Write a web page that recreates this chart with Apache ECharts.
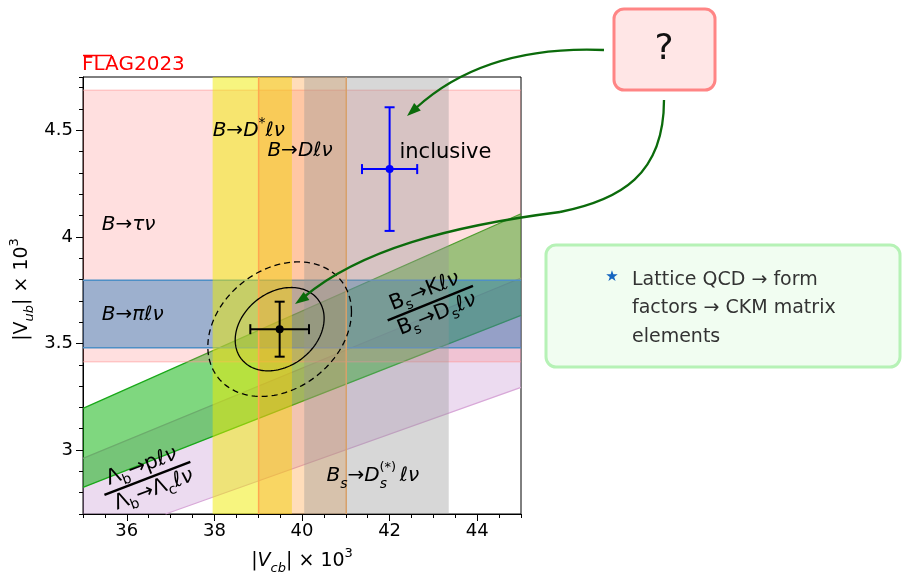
<!DOCTYPE html>
<html><head><meta charset="utf-8">
<script src="https://cdn.jsdelivr.net/npm/echarts@6/dist/echarts.min.js"></script>
<style>html,body{margin:0;padding:0;background:#fff}#c{width:902px;height:574px}</style>
</head><body><div id="c"></div>
<script>
// ---------------- data ----------------
const xRange = [35, 45];
const yRange = [2.7, 4.75];
const xMajorTicks = [36, 38, 40, 42, 44];
const yMajorTicks = [3, 3.5, 4, 4.5];

const hBandNames = ['B→τν', 'B→πℓν'];
const hBandLow  = [3.414, 3.48];
const hBandHigh = [4.688, 3.797];

const vBandNames = ['B→D*ℓν', 'B→Dℓν', 'Bs→Ds(*)ℓν'];
const vBandLow  = [37.96, 39.01, 40.05];
const vBandHigh = [39.77, 41.01, 43.35];

const ratioNames = ['Λb→pℓν / Λb→Λcℓν', 'Bs→Kℓν / Bs→Dsℓν'];
const ratioLow  = [0.0732, 0.0807];
const ratioHigh = [0.0846, 0.0913];

const pointNames = ['inclusive', 'average'];
const pointX    = [42.0, 39.49];
const pointXErr = [0.63, 0.67];
const pointY    = [4.318, 3.567];
const pointYErr = [0.29, 0.129];
const avgCorrelation = 0.26;
const contourScale = [1.515, 2.447];

const labelTexts = ['{m|B→τν}', '{m|B→πℓν}', '{m|B→D}{sup|*}{m|ℓν}', '{m|B→Dℓν}', '{r|inclusive}', '{m|B}{sub|s}{m|→D}{subw|s}{m|ℓν}'];
const labelX = [35.43, 35.43, 37.96, 39.21, 42.225, 40.56];
const labelY = [4.06, 3.64, 4.50, 4.41, 4.40, 2.883];

const fracNum = ['{u|Λ}{sb|b}{u|→p}{i|ℓν}', '{u|B}{sb|s}{u|→K}{i|ℓν}'];
const fracDen = ['{u|Λ}{sb|b}{u|→Λ}{sb|c}{i|ℓν}', '{u|B}{sb|s}{u|→D}{sb|s}{i|ℓν}'];
const fracX = [36.47, 42.93];
const fracY = [2.867, 3.689];
const fracAngle = [21, 22];

const noteLines = ['Lattice QCD → form', 'factors → CKM matrix', 'elements'];
// -------------------------------------

const FONT = 'DejaVu Sans';
const chart = echarts.init(document.getElementById('c'), null, {renderer: 'canvas'});

function clipPoly(poly, xmin, xmax, ymin, ymax) {
  const edges = [
    [p => p[0] >= xmin, (a, b) => { const t = (xmin - a[0]) / (b[0] - a[0]); return [xmin, a[1] + t * (b[1] - a[1])]; }],
    [p => p[0] <= xmax, (a, b) => { const t = (xmax - a[0]) / (b[0] - a[0]); return [xmax, a[1] + t * (b[1] - a[1])]; }],
    [p => p[1] >= ymin, (a, b) => { const t = (ymin - a[1]) / (b[1] - a[1]); return [a[0] + t * (b[0] - a[0]), ymin]; }],
    [p => p[1] <= ymax, (a, b) => { const t = (ymax - a[1]) / (b[1] - a[1]); return [a[0] + t * (b[0] - a[0]), ymax]; }]
  ];
  let out = poly;
  for (const [inside, inter] of edges) {
    const inp = out; out = [];
    for (let i = 0; i < inp.length; i++) {
      const cur = inp[i], prev = inp[(i + inp.length - 1) % inp.length];
      if (inside(cur)) { if (!inside(prev)) out.push(inter(prev, cur)); out.push(cur); }
      else if (inside(prev)) out.push(inter(prev, cur));
    }
  }
  return out;
}

function ratioSeries(i, fill, edge) {
  return {
    type: 'custom', name: ratioNames[i], xAxisIndex: 0, yAxisIndex: 0,
    data: [[ratioLow[i], ratioHigh[i]]],
    renderItem: (params, api) => {
      const s1 = api.value(0), s2 = api.value(1);
      const [x0, x1] = xRange, [y0, y1] = yRange;
      const poly = clipPoly([[x0, s1 * x0], [x1, s1 * x1], [x1, s2 * x1], [x0, s2 * x0]], x0, x1, y0, y1);
      const children = [{type: 'polygon', shape: {points: poly.map(p => api.coord(p))}, style: {fill: fill}}];
      [s1, s2].forEach(s => {
        const xa = Math.max(x0, y0 / s), xb = Math.min(x1, y1 / s);
        if (xa < xb) {
          const pa = api.coord([xa, s * xa]), pb = api.coord([xb, s * xb]);
          children.push({type: 'line', shape: {x1: pa[0], y1: pa[1], x2: pb[0], y2: pb[1]}, style: {stroke: edge, lineWidth: 1.3}});
        }
      });
      return {type: 'group', children};
    }
  };
}

function rectSeries(name, lo, hi, dir, fill, edge, edgeW) {
  return {
    type: 'custom', name, xAxisIndex: 0, yAxisIndex: 0,
    data: [[lo, hi]],
    renderItem: (params, api) => {
      const a = api.value(0), b = api.value(1);
      let p1, p2;
      if (dir === 'h') { p1 = api.coord([xRange[0], b]); p2 = api.coord([xRange[1], a]); }
      else { p1 = api.coord([a, yRange[1]]); p2 = api.coord([b, yRange[0]]); }
      const children = [{type: 'rect', shape: {x: p1[0], y: p1[1], width: p2[0] - p1[0], height: p2[1] - p1[1]}, style: {fill}}];
      if (edge) {
        if (dir === 'h') {
          children.push({type: 'line', shape: {x1: p1[0], y1: p1[1], x2: p2[0], y2: p1[1]}, style: {stroke: edge, lineWidth: edgeW}});
          children.push({type: 'line', shape: {x1: p1[0], y1: p2[1], x2: p2[0], y2: p2[1]}, style: {stroke: edge, lineWidth: edgeW}});
        } else {
          children.push({type: 'line', shape: {x1: p1[0], y1: p1[1], x2: p1[0], y2: p2[1]}, style: {stroke: edge, lineWidth: edgeW}});
          children.push({type: 'line', shape: {x1: p2[0], y1: p1[1], x2: p2[0], y2: p2[1]}, style: {stroke: edge, lineWidth: edgeW}});
        }
      }
      return {type: 'group', children};
    }
  };
}

const richM = {
  m: {fontFamily: FONT, fontStyle: 'italic', fontSize: 20, lineHeight: 30, fill: '#000'},
  r: {fontFamily: FONT, fontSize: 21, lineHeight: 30, fill: '#000'},
  sub: {fontFamily: FONT, fontStyle: 'italic', fontSize: 14, lineHeight: 16, verticalAlign: 'bottom', fill: '#000'},
  subw: {fontFamily: FONT, fontStyle: 'italic', fontSize: 14, lineHeight: 16, verticalAlign: 'bottom', width: 20, fill: '#000'},
  sup: {fontFamily: FONT, fontSize: 14, lineHeight: 16, verticalAlign: 'top', fill: '#000'}
};
const richF = {
  u: {fontFamily: FONT, fontSize: 21, lineHeight: 28, fill: '#000'},
  i: {fontFamily: FONT, fontStyle: 'italic', fontSize: 21, lineHeight: 28, fill: '#000'},
  sb: {fontFamily: FONT, fontSize: 14, lineHeight: 15, verticalAlign: 'bottom', fill: '#000'}
};

const series = [
  ratioSeries(0, 'rgba(205,160,215,0.38)', '#d8a8d8'),
  ratioSeries(1, 'rgba(0,175,0,0.5)', '#19a819'),
  rectSeries(hBandNames[0], hBandLow[0], hBandHigh[0], 'h', 'rgba(255,120,120,0.24)', 'rgba(255,150,150,0.45)', 1.5),
  rectSeries(hBandNames[1], hBandLow[1], hBandHigh[1], 'h', 'rgba(31,115,185,0.44)', '#4d8fc6', 1.5),
  rectSeries(vBandNames[0], vBandLow[0], vBandHigh[0], 'v', 'rgba(240,235,0,0.5)', null, 0),
  rectSeries(vBandNames[1], vBandLow[1], vBandHigh[1], 'v', 'rgba(255,150,40,0.32)', '#ffa850', 1.5),
  rectSeries(vBandNames[2], vBandLow[2], vBandHigh[2], 'v', 'rgba(150,150,150,0.38)', null, 0),
  {
    type: 'custom', name: 'contours', xAxisIndex: 0, yAxisIndex: 0,
    data: contourScale.map(k => [pointX[1], pointY[1], pointXErr[1], pointYErr[1], avgCorrelation, k]),
    renderItem: (params, api) => {
      const cx = api.value(0), cy = api.value(1), sx = api.value(2), sy = api.value(3), rho = api.value(4), k = api.value(5);
      const pts = [];
      for (let j = 0; j <= 160; j++) {
        const t = j / 160 * Math.PI * 2;
        pts.push(api.coord([cx + k * sx * Math.cos(t), cy + k * sy * (rho * Math.cos(t) + Math.sqrt(1 - rho * rho) * Math.sin(t))]));
      }
      return {type: 'polyline', shape: {points: pts}, style: {stroke: '#000', lineWidth: 1.3, fill: 'none', lineDash: params.dataIndex === 1 ? [6, 4] : null}};
    }
  },
  {
    type: 'custom', name: 'points', xAxisIndex: 0, yAxisIndex: 0,
    data: pointX.map((x, i) => [x, pointY[i], pointXErr[i], pointYErr[i]]),
    renderItem: (params, api) => {
      const col = params.dataIndex === 0 ? '#0000ff' : '#000000';
      const x = api.value(0), y = api.value(1), ex = api.value(2), ey = api.value(3);
      const c = api.coord([x, y]), l = api.coord([x - ex, y]), r = api.coord([x + ex, y]), t = api.coord([x, y + ey]), b = api.coord([x, y - ey]);
      const cap = 5, st = {stroke: col, lineWidth: 2};
      return {type: 'group', children: [
        {type: 'line', shape: {x1: l[0], y1: l[1], x2: r[0], y2: r[1]}, style: st},
        {type: 'line', shape: {x1: t[0], y1: t[1], x2: b[0], y2: b[1]}, style: st},
        {type: 'line', shape: {x1: l[0], y1: l[1] - cap, x2: l[0], y2: l[1] + cap}, style: st},
        {type: 'line', shape: {x1: r[0], y1: r[1] - cap, x2: r[0], y2: r[1] + cap}, style: st},
        {type: 'line', shape: {x1: t[0] - cap, y1: t[1], x2: t[0] + cap, y2: t[1]}, style: st},
        {type: 'line', shape: {x1: b[0] - cap, y1: b[1], x2: b[0] + cap, y2: b[1]}, style: st},
        {type: 'circle', shape: {cx: c[0], cy: c[1], r: 4}, style: {fill: col}}
      ]};
    }
  },
  {
    type: 'custom', name: 'labels', xAxisIndex: 0, yAxisIndex: 0,
    data: labelX.map((x, i) => [x, labelY[i]]),
    renderItem: (params, api) => {
      const p = api.coord([api.value(0), api.value(1)]);
      const children = [{type: 'text', x: 0, y: 1, style: {text: labelTexts[params.dataIndex], rich: richM, align: 'left', verticalAlign: 'middle', fontFamily: FONT, fontSize: 20}}];
      if (params.dataIndex === 5) children.push({type: 'text', x: 53, y: -7, style: {text: '(*)', fontFamily: FONT, fontSize: 13, fill: '#000', align: 'left', verticalAlign: 'middle'}});
      return {type: 'group', x: p[0], y: p[1], children};
    }
  },
  {
    type: 'custom', name: 'ratio labels', xAxisIndex: 0, yAxisIndex: 0,
    data: fracX.map((x, i) => [x, fracY[i]]),
    renderItem: (params, api) => {
      const i = params.dataIndex;
      const p = api.coord([api.value(0), api.value(1)]);
      return {type: 'group', x: p[0], y: p[1], rotation: fracAngle[i] * Math.PI / 180, children: [
        {type: 'text', x: -1, y: -13, style: {text: fracNum[i], rich: richF, align: 'center', verticalAlign: 'middle', fontFamily: FONT, fontSize: 21}},
        {type: 'line', shape: {x1: -46, y1: 0, x2: 46, y2: 0}, style: {stroke: '#000', lineWidth: 2.5}},
        {type: 'text', x: 2, y: 13, style: {text: fracDen[i], rich: richF, align: 'center', verticalAlign: 'middle', fontFamily: FONT, fontSize: 21}}
      ]};
    }
  }
];

function arrowHead(tip, from, color) {
  let dx = tip[0] - from[0], dy = tip[1] - from[1];
  const len = Math.hypot(dx, dy); dx /= len; dy /= len;
  const L = 14, W = 5;
  const bx = tip[0] - dx * L, by = tip[1] - dy * L;
  return {type: 'polygon', z: 101, shape: {points: [tip, [bx - dy * W, by + dx * W], [bx + dy * W, by - dx * W]]}, style: {fill: color}};
}

const arrowColor = '#0b6b0b';
const graphic = [
  {type: 'text', z: 100, style: {x: 82, y: 65, text: 'FLAG2023', fontFamily: FONT, fontSize: 20, fill: '#ff0000', verticalAlign: 'middle'}},
  {type: 'line', z: 100, shape: {x1: 83, y1: 55.5, x2: 112, y2: 55.5}, style: {stroke: '#ff0000', lineWidth: 1.5}},
  {type: 'rect', z: 100, shape: {x: 614, y: 9, width: 101, height: 81, r: 10}, style: {fill: '#ffe6e6', stroke: '#ff8585', lineWidth: 3}},
  {type: 'text', z: 101, style: {x: 664, y: 50, text: '?', fontFamily: FONT, fontSize: 36, fill: '#111', align: 'center', verticalAlign: 'middle'}},
  {type: 'rect', z: 100, shape: {x: 546, y: 245, width: 354, height: 122, r: 10}, style: {fill: '#f1fdf1', stroke: '#b6f2b6', lineWidth: 3}},
  {type: 'text', z: 101, style: {x: 612, y: 277, text: '★', fontFamily: FONT, fontSize: 15, fill: '#1565c0', align: 'center', verticalAlign: 'middle'}},
  ...noteLines.map((t, i) => ({type: 'text', z: 101, style: {x: 632, y: 280 + i * 28.5, text: t, fontFamily: FONT, fontSize: 19, fill: '#333', verticalAlign: 'middle'}})),
  {type: 'bezierCurve', z: 100, shape: {x1: 604, y1: 50, cpx1: 485, cpy1: 45, x2: 416, y2: 108}, style: {stroke: arrowColor, lineWidth: 2.3, fill: 'none'}},
  arrowHead([407, 116], [425, 100], arrowColor),
  {type: 'bezierCurve', z: 100, shape: {x1: 664, y1: 100, cpx1: 664, cpy1: 175, cpx2: 620, cpy2: 200, x2: 560, y2: 212}, style: {stroke: arrowColor, lineWidth: 2.3, fill: 'none'}},
  {type: 'bezierCurve', z: 100, shape: {x1: 560, y1: 212, cpx1: 450, cpy1: 226, cpx2: 360, cpy2: 250, x2: 304, y2: 297}, style: {stroke: arrowColor, lineWidth: 2.3, fill: 'none'}},
  arrowHead([295, 304], [318, 288], arrowColor)
];

const axisFontStyle = {fontFamily: FONT, fontSize: 18, color: '#000'};
chart.setOption({
  animation: false,
  backgroundColor: '#fff',
  grid: {left: 83, top: 77, width: 438, height: 437, show: true, borderColor: '#000', borderWidth: 1, backgroundColor: 'transparent', containLabel: false, outerBoundsMode: 'none'},
  xAxis: [
    {type: 'value', min: xRange[0], max: xRange[1], interval: 0.5, position: 'bottom',
      axisLine: {show: true, lineStyle: {color: '#000', width: 1}}, axisTick: {show: true, length: 4, lineStyle: {color: '#000'}},
      axisLabel: {show: false}, splitLine: {show: false}},
    {type: 'value', min: xRange[0], max: xRange[1], position: 'bottom', offset: 0,
      axisLine: {show: false}, axisTick: {show: true, length: 7, customValues: xMajorTicks, lineStyle: {color: '#000'}},
      axisLabel: {show: true, customValues: xMajorTicks, margin: 8, ...axisFontStyle}, splitLine: {show: false},
      name: '|{i|V}{s|cb}| × 10{p|3}', nameLocation: 'middle', nameGap: 33,
      nameTextStyle: {fontFamily: FONT, fontSize: 19, color: '#000', lineHeight: 28, rich: {
        i: {fontFamily: FONT, fontStyle: 'italic', fontSize: 19, lineHeight: 28},
        s: {fontFamily: FONT, fontStyle: 'italic', fontSize: 13, lineHeight: 14, verticalAlign: 'bottom'},
        p: {fontFamily: FONT, fontSize: 13, lineHeight: 14, verticalAlign: 'top'}}}}
  ],
  yAxis: [
    {type: 'value', min: yRange[0], max: yRange[1], interval: 0.1, position: 'left',
      axisLine: {show: true, lineStyle: {color: '#000', width: 1}}, axisTick: {show: true, length: 4, lineStyle: {color: '#000'}},
      axisLabel: {show: false}, splitLine: {show: false}},
    {type: 'value', min: yRange[0], max: yRange[1], position: 'left', offset: 0,
      axisLine: {show: false}, axisTick: {show: true, length: 7, customValues: yMajorTicks, lineStyle: {color: '#000'}},
      axisLabel: {show: true, customValues: yMajorTicks, margin: 10, ...axisFontStyle}, splitLine: {show: false},
      name: '|V{s|ub}| × 10{p|3}', nameLocation: 'middle', nameGap: 47, nameRotate: 90,
      nameTextStyle: {fontFamily: FONT, fontSize: 19, color: '#000', lineHeight: 28, padding: [0, 0, 0, 12], rich: {
        s: {fontFamily: FONT, fontStyle: 'italic', fontSize: 13, lineHeight: 14, verticalAlign: 'bottom'},
        p: {fontFamily: FONT, fontSize: 13, lineHeight: 14, verticalAlign: 'top'}}}}
  ],
  series,
  graphic
});
</script></body></html>
